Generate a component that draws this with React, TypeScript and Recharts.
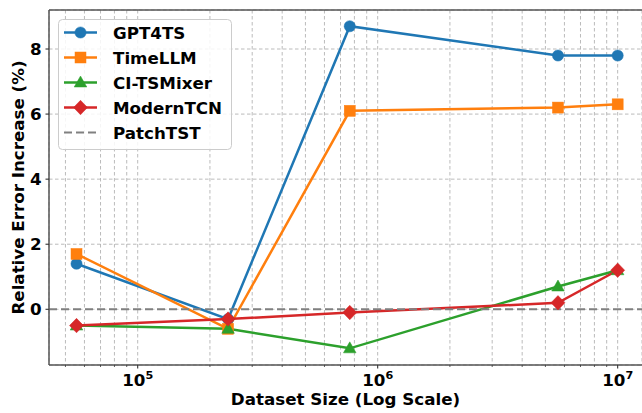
import React from 'react';
import { LineChart, Line, XAxis, YAxis, CartesianGrid, ReferenceLine, Legend } from 'recharts';

const datasetSizes = [55600, 238000, 765000, 5640000, 10000000];
const gpt4tsValues = [1.4, -0.3, 8.7, 7.8, 7.8];
const timellmValues = [1.7, -0.6, 6.1, 6.2, 6.3];
const ciTsmixerValues = [-0.5, -0.6, -1.2, 0.7, 1.2];
const modernTcnValues = [-0.5, -0.3, -0.1, 0.2, 1.2];
const patchTstValue = 0;

const xTickValues = [
  50000, 60000, 70000, 80000, 90000,
  100000, 200000, 300000, 400000, 500000, 600000, 700000, 800000, 900000,
  1000000, 2000000, 3000000, 4000000, 5000000, 6000000, 7000000, 8000000, 9000000,
  10000000,
];
const xMajorTicks = [100000, 1000000, 10000000];
const yTickValues = [0, 2, 4, 6, 8];
const xDomain = [42700, 12630000];
const yDomain = [-1.712, 9.199];

const FONT = '"DejaVu Sans", sans-serif';
const FS = 16.7;

type Shape = 'circle' | 'square' | 'triangle' | 'diamond';

const series: { key: string; name: string; color: string; shape: Shape; values: number[] }[] = [
  { key: 'gpt4ts', name: 'GPT4TS', color: '#1f77b4', shape: 'circle', values: gpt4tsValues },
  { key: 'timellm', name: 'TimeLLM', color: '#ff7f0e', shape: 'square', values: timellmValues },
  { key: 'citsmixer', name: 'CI-TSMixer', color: '#2ca02c', shape: 'triangle', values: ciTsmixerValues },
  { key: 'moderntcn', name: 'ModernTCN', color: '#d62728', shape: 'diamond', values: modernTcnValues },
];

const data = datasetSizes.map((size, i) => {
  const row: Record<string, number> = { size };
  series.forEach((s) => {
    row[s.key] = s.values[i];
  });
  return row;
});

function marker(shape: Shape, cx: number, cy: number, color: string, key?: string) {
  switch (shape) {
    case 'circle':
      return <circle key={key} cx={cx} cy={cy} r={5.6} fill={color} stroke={color} strokeWidth={0.5} />;
    case 'square':
      return <rect key={key} x={cx - 5.5} y={cy - 5.5} width={11} height={11} fill={color} stroke={color} strokeWidth={0.5} />;
    case 'triangle':
      return (
        <polygon
          key={key}
          points={`${cx},${cy - 6.5} ${cx + 6.3},${cy + 4.5} ${cx - 6.3},${cy + 4.5}`}
          fill={color}
          stroke={color}
          strokeWidth={0.5}
        />
      );
    case 'diamond':
    default:
      return (
        <polygon
          key={key}
          points={`${cx},${cy - 7.2} ${cx + 7},${cy} ${cx},${cy + 7.2} ${cx - 7},${cy}`}
          fill={color}
          stroke={color}
          strokeWidth={0.5}
        />
      );
  }
}

const makeDot = (shape: Shape, color: string) => (props: any) => {
  const { cx, cy, index } = props;
  if (cx == null || cy == null) return <g key={`e-${index}`} />;
  return marker(shape, cx, cy, color, `d-${index}`);
};

const XTick = (props: any) => {
  const { x, y, payload } = props;
  const v = payload.value as number;
  const isMajor = xMajorTicks.includes(v);
  const exp = Math.round(Math.log10(v));
  return (
    <g>
      <line x1={x} x2={x} y1={y} y2={y + (isMajor ? 3.5 : 2)} stroke="#333" strokeWidth={isMajor ? 1.1 : 0.8} />
      {isMajor && (
        <text x={x} y={y + 20.5} textAnchor="middle" fontFamily={FONT} fontSize={FS} fontWeight="bold" fill="#000">
          10
          <tspan fontSize={11.2} dy={-7}>
            {exp}
          </tspan>
        </text>
      )}
    </g>
  );
};

const LegendContent = () => {
  const rows = [
    ...series.map((s) => ({ name: s.name, color: s.color, shape: s.shape as Shape | null, dashed: false })),
    { name: 'PatchTST', color: '#808080', shape: null as Shape | null, dashed: true },
  ];
  return (
    <svg width={175} height={132} style={{ display: 'block', overflow: 'visible' }}>
      <rect x={0.5} y={0.5} width={173} height={130} rx={4} ry={4} fill="rgba(255,255,255,0.85)" stroke="#cccccc" strokeWidth={1} />
      {rows.map((r, i) => {
        const cy = 13.5 + 25 * i;
        return (
          <g key={r.name}>
            <line
              x1={6}
              x2={39}
              y1={cy}
              y2={cy}
              stroke={r.color}
              strokeWidth={r.dashed ? 2 : 2.5}
              strokeDasharray={r.dashed ? '8 4' : undefined}
            />
            {r.shape && marker(r.shape, 22.5, cy, r.color)}
            <text x={55} y={cy} dominantBaseline="central" fontFamily={FONT} fontSize={FS} fontWeight="bold" fill="#000">
              {r.name}
            </text>
          </g>
        );
      })}
    </svg>
  );
};

const YLabel = (props: any) => {
  const vb = props.viewBox || { x: 0, y: 10, width: 49, height: 355 };
  const cx = 17.5;
  const cy = vb.y + vb.height / 2;
  return (
    <text
      x={cx}
      y={cy}
      transform={`rotate(-90, ${cx}, ${cy})`}
      textAnchor="middle"
      dominantBaseline="central"
      fontFamily={FONT}
      fontSize={FS}
      fontWeight="bold"
      fill="#000"
    >
      Relative Error Increase (%)
    </text>
  );
};

const XLabel = (props: any) => {
  const vb = props.viewBox || { x: 49, y: 365, width: 593, height: 48 };
  const cx = vb.x + vb.width / 2;
  return (
    <text x={cx} y={vb.y + 40} textAnchor="middle" fontFamily={FONT} fontSize={FS} fontWeight="bold" fill="#000">
      Dataset Size (Log Scale)
    </text>
  );
};

export default function App() {
  return (
    <div style={{ position: 'absolute', left: 0, top: 0, width: 642, height: 413, background: '#fff' }}>
      <LineChart width={642} height={413} data={data} margin={{ top: 10, right: 0, bottom: 0, left: 0 }}>
        <CartesianGrid stroke="#aaaaaa" strokeWidth={0.8} strokeDasharray="3.5 2.5" />
        <XAxis
          dataKey="size"
          type="number"
          scale="log"
          domain={xDomain}
          allowDataOverflow
          ticks={xTickValues}
          interval={0}
          height={48}
          tickSize={0}
          tickMargin={0}
          tickLine={false}
          tick={<XTick />}
          axisLine={{ stroke: '#555', strokeWidth: 1.5 }}
          label={<XLabel />}
        />
        <YAxis
          type="number"
          domain={yDomain}
          allowDataOverflow
          ticks={yTickValues}
          interval={0}
          width={49}
          tickSize={3.5}
          tickMargin={4}
          tickLine={{ stroke: '#333', strokeWidth: 1.1 }}
          tick={{ fontFamily: FONT, fontSize: FS, fontWeight: 'bold', fill: '#000' }}
          axisLine={{ stroke: '#555', strokeWidth: 1.5 }}
          label={<YLabel />}
        />
        <ReferenceLine y={yDomain[1]} stroke="#555" strokeWidth={1.5} ifOverflow="visible" />
        {series.map((s) => (
          <Line
            key={s.key}
            type="linear"
            dataKey={s.key}
            name={s.name}
            stroke={s.color}
            strokeWidth={2.5}
            dot={makeDot(s.shape, s.color)}
            activeDot={false}
            isAnimationActive={false}
          />
        ))}
        <ReferenceLine y={patchTstValue} stroke="#808080" strokeWidth={2} strokeDasharray="8 4" />
        <Legend
          layout="vertical"
          align="center"
          verticalAlign="middle"
          content={<LegendContent />}
          wrapperStyle={{ left: 58, top: 19, width: 175, height: 132 }}
        />
      </LineChart>
    </div>
  );
}
